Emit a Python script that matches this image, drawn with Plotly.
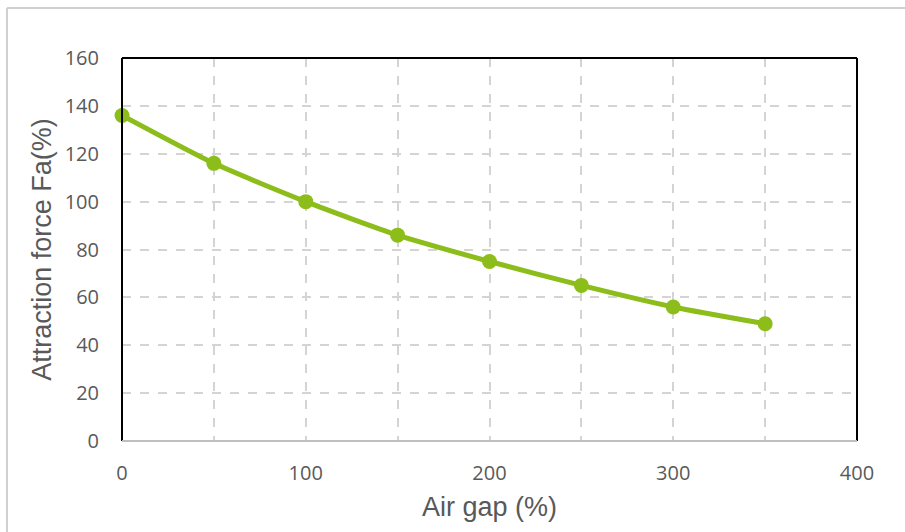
import plotly.graph_objects as go

air_gap = [0, 50, 100, 150, 200, 250, 300, 350]
attraction_force = [136, 116, 100, 86, 75, 65, 56, 49]
x_tick_vals = [0, 100, 200, 300, 400]
y_tick_vals = [0, 20, 40, 60, 80, 100, 120, 140, 160]

W, H = 905, 532
L, R, T, B = 122, 48, 58, 91
pw, ph = W - L - R, H - T - B

fig = go.Figure()
fig.add_trace(go.Scatter(
    x=air_gap, y=attraction_force, mode="lines+markers",
    line=dict(color="#8CBD1A", width=5, shape="spline", smoothing=0.6),
    marker=dict(color="#8CBD1A", size=15),
    cliponaxis=False, showlegend=False,
))

grid = dict(gridcolor="#D4D4D4", griddash="dash", gridwidth=1.5)
title_font = dict(family="Liberation Sans, Arial, sans-serif", size=27, color="#595959")
tick_font = dict(family="Open Sans, Liberation Sans, sans-serif", size=20, color="#595959")
fig.update_layout(
    width=W, height=H, margin=dict(l=L, r=R, t=T, b=B),
    paper_bgcolor="white", plot_bgcolor="white",
    font=dict(family="Open Sans, Liberation Sans, sans-serif", color="#595959"),
    xaxis=dict(range=[0, 400], tickvals=x_tick_vals, showgrid=True, **grid,
               minor=dict(dtick=50, showgrid=True, gridcolor="#D4D4D4", griddash="dash", gridwidth=1.5),
               zeroline=False, showline=False, ticks="", tickfont=tick_font,
               ticklabelstandoff=18,
               title=dict(text="Air gap (%)", font=title_font, standoff=12)),
    yaxis=dict(range=[0, 160], tickvals=y_tick_vals, showgrid=True, **grid,
               zeroline=False, showline=False, ticks="", tickfont=tick_font,
               ticklabelstandoff=22,
               title=dict(text="Attraction force Fa(%)", font=title_font, standoff=5)),
)

fig.add_shape(type="line", xref="paper", yref="paper", x0=0, x1=0, y0=0, y1=1, line=dict(color="black", width=2))
fig.add_shape(type="line", xref="paper", yref="paper", x0=0, x1=1, y0=1, y1=1, line=dict(color="black", width=2))
fig.add_shape(type="line", xref="paper", yref="paper", x0=1, x1=1, y0=0, y1=1, line=dict(color="black", width=2))
fig.add_shape(type="line", xref="paper", yref="paper", x0=0, x1=1, y0=0, y1=0, line=dict(color="#BFBFBF", width=2))

xl = (7 - L) / pw
yt = (H - B - 8) / ph
xr = (W - L) / pw
yb = -(B) / ph
fig.add_shape(type="line", xref="paper", yref="paper", x0=xl, x1=xl, y0=yb, y1=yt, line=dict(color="#D0D0D0", width=2))
fig.add_shape(type="line", xref="paper", yref="paper", x0=xl, x1=xr, y0=yt, y1=yt, line=dict(color="#D0D0D0", width=2))

fig.write_html("out.html")
